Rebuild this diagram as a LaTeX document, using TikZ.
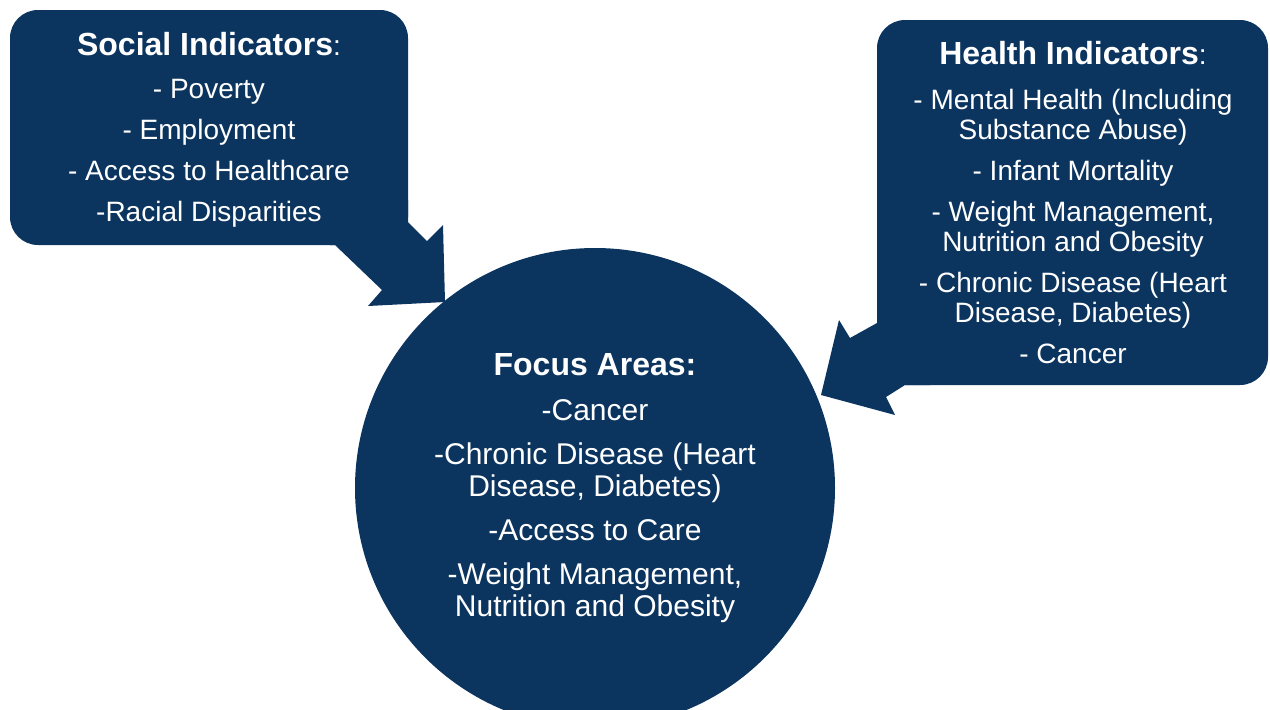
\documentclass[tikz,border=0pt]{standalone}
\usepackage{fontspec}
\setmainfont{Liberation Sans}

\definecolor{navy}{RGB}{11,52,95}

\newcommand{\panelhead}[1]{{\fontsize{16}{16}\selectfont\bfseries #1}}

\tikzset{
    callout/.style={fill=navy, rounded corners=14pt},
    panel/.style={text=white, align=center, font=\fontsize{14}{15}\selectfont},
    disc/.style={circle, fill=navy, minimum size=240pt, inner sep=0pt,
        text=white, align=center, font=\fontsize{15}{16}\selectfont},
}

\begin{document}
\begin{tikzpicture}[x=0.5pt, y=-0.5pt]

            \useasboundingbox (0,0) rectangle (1270,709);

            % social indicators callout
            \fill[callout] (10,10) rectangle (408,245);
            \fill[navy] (330,200) -- (408,200) -- (408,222) -- (427,241) -- (443,225)
                -- (445,302) -- (368,306) -- (382,290) -- (335,245) -- (330,245) -- cycle;

            % health indicators callout
            \fill[callout] (877,20) rectangle (1268,385);
            \fill[navy] (877,300) -- (877,323) -- (850,338) -- (839,320) -- (821,395)
                -- (895,415) -- (886,397) -- (905,385) -- (930,385) -- (930,300) -- cycle;

            % focus areas, cut off at the bottom edge
            \begin{scope}
                \clip (0,0) rectangle (1270,709);
                \node[disc] (focus) at (595,488) {\panelhead{Focus Areas:}\\[6.5pt]
                    -Cancer\\[6pt]
                    -Chronic Disease (Heart\\ Disease, Diabetes)\\[6pt]
                    -Access to Care\\[6pt]
                    -Weight Management,\\ Nutrition and Obesity};
            \end{scope}

            \node[panel] (social) at (209,130) {\panelhead{Social Indicators}:\\[6.5pt]
                - Poverty\\[5.5pt]
                - Employment\\[5.5pt]
                - Access to Healthcare\\[5.5pt]
                -Racial Disparities};

            \node[panel] (health) at (1073,203) {\panelhead{Health Indicators}:\\[7.5pt]
                - Mental Health (Including\\ Substance Abuse)\\[5.5pt]
                - Infant Mortality\\[5.5pt]
                - Weight Management,\\ Nutrition and Obesity\\[5.5pt]
                - Chronic Disease (Heart\\ Disease, Diabetes)\\[5.5pt]
                - Cancer};

        \end{tikzpicture}
\end{document}
